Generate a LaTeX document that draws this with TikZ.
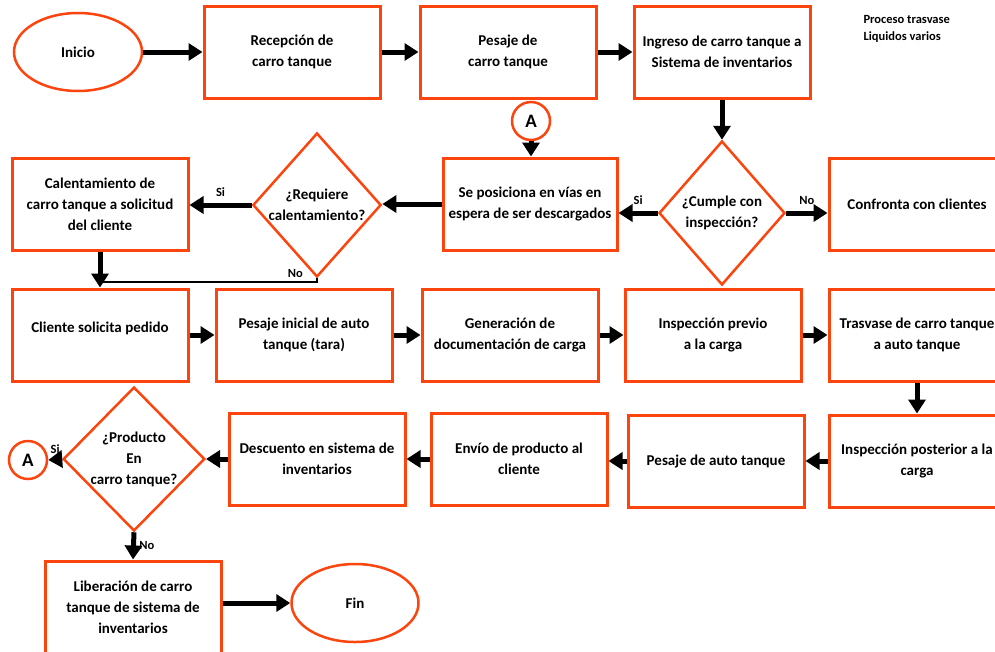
\documentclass[tikz,border=0pt]{standalone}
\usepackage{fontspec}
\setmainfont{Carlito}
\usetikzlibrary{shapes.geometric,arrows.meta}
\definecolor{naranja}{RGB}{252,68,14}

\begin{document}
\begin{tikzpicture}[x=1pt,y=-1pt,
		font=\fontsize{15}{21}\selectfont\bfseries,
		caja/.style={draw=naranja,line width=3pt,minimum width=176pt,minimum height=92pt,align=center,inner sep=2pt},
		rombo/.style={diamond,draw=naranja,line width=2.5pt,minimum width=126pt,minimum height=144pt,align=center,inner sep=0pt},
		elipse/.style={ellipse,draw=naranja,line width=2.5pt,minimum width=128pt,minimum height=78pt},
		conector/.style={circle,draw=naranja,line width=2.5pt,minimum size=38pt,inner sep=0pt,font=\fontsize{19}{20}\selectfont\bfseries},
		flecha/.style={line width=5pt,-{Triangle[length=14pt,width=17pt]}},
		etiqueta/.style={font=\fontsize{12.5}{14}\selectfont\bfseries}]
	\useasboundingbox (0,0) rectangle (995,651);
	% fila 1
	\node[elipse] (inicio) at (78,52) {Inicio};
	\node[caja] (recep) at (292,52) {Recepción de\\carro tanque};
	\node[caja] (pesaje) at (508,52) {Pesaje de\\carro tanque};
	\node[caja] (ingreso) at (722,52) {Ingreso de carro tanque a\\Sistema de inventarios};
	\node[align=left,anchor=north west,font=\fontsize{12.5}{17}\selectfont\bfseries] (titulo) at (860,12) {Proceso trasvase\\Liquidos varios};
	% fila 2
	\node[conector] (a1) at (531,121) {A};
	\node[caja,minimum width=174pt] (posic) at (530,204) {Se posiciona en vías en\\espera de ser descargados};
	\node[rombo] (cumple) at (722,213) {¿Cumple con\\inspección?};
	\node[caja] (confr) at (917,204) {Confronta con clientes};
	\node[rombo] (requiere) at (317,205) {¿Requiere\\calentamiento?};
	\node[caja] (calent) at (100,204) {Calentamiento de\\carro tanque a solicitud\\del cliente};
	\coordinate (union) at (100,282);
	% fila 3
	\node[caja,text depth=16pt] (cliente) at (100,335) {Cliente solicita pedido};
	\node[caja] (pesaini) at (304,335) {Pesaje inicial de auto\\tanque (tara)};
	\node[caja] (genera) at (510,335) {Generación de\\documentación de carga};
	\node[caja] (insprev) at (713,335) {Inspección previo\\a la carga};
	\node[caja] (trasv) at (917,335) {Trasvase de carro tanque\\a auto tanque};
	% fila 4
	\node[caja] (insppost) at (917,461) {Inspección posterior a la\\carga};
	\node[caja] (pesauto) at (716,461) {Pesaje de auto tanque};
	\node[caja] (envio) at (519,459) {Envío de producto al\\cliente};
	\node[caja] (desc) at (317,459) {Descuento en sistema de\\inventarios};
	\node[rombo,minimum width=124pt] (producto) at (134,459) {¿Producto\\En\\carro tanque?};
	\node[conector] (a2) at (28,460) {A};
	% fila 5
	\node[caja] (liber) at (133,607) {Liberación de carro\\tanque de sistema de\\inventarios};
	\node[elipse,minimum width=127pt] (fin) at (355,603) {Fin};

	\draw[flecha] (inicio.east) -- (recep.west);
	\draw[flecha] (recep.east) -- (pesaje.west);
	\draw[flecha] (pesaje.east) -- (ingreso.west);
	\draw[flecha] (ingreso.south) -- (cumple.north);
	\draw[flecha] (a1.south) -- (a1.south |- posic.north);
	\draw[flecha] (cumple.west) -- node[etiqueta,above=3pt] {Si} (cumple.west -| posic.east);
	\draw[flecha] (cumple.east) -- node[etiqueta,above=3pt] {No} (cumple.east -| confr.west);
	\draw[flecha] (posic.west) -- (posic.west -| requiere.east);
	\draw[flecha] (requiere.west) -- node[etiqueta,above=3pt] {Si} (requiere.west -| calent.east);
	\draw[flecha] (calent.south) -- (cliente.north);
	\draw[line width=1.5pt] (requiere.south) |- node[etiqueta,above,pos=0.55] {No} (union);
	\draw[flecha] (cliente.east) -- (pesaini.west);
	\draw[flecha] (pesaini.east) -- (genera.west);
	\draw[flecha] (genera.east) -- (insprev.west);
	\draw[flecha] (insprev.east) -- (trasv.west);
	\draw[flecha] (trasv.south) -- (insppost.north);
	\draw[flecha] (insppost.west) -- (pesauto.east);
	\draw[flecha] (pesauto.west) -- (pesauto.west -| envio.east);
	\draw[flecha] (envio.west) -- (envio.west -| desc.east);
	\draw[flecha] (desc.west) -- (producto.east);
	\draw[flecha] (producto.west) -- node[etiqueta,above] {Si} (a2.east);
	\draw[flecha] (producto.south) -- node[etiqueta,right] {No} (liber.north);
	\draw[flecha] (fin.west -| liber.east) -- (fin.west);
\end{tikzpicture}
\end{document}
